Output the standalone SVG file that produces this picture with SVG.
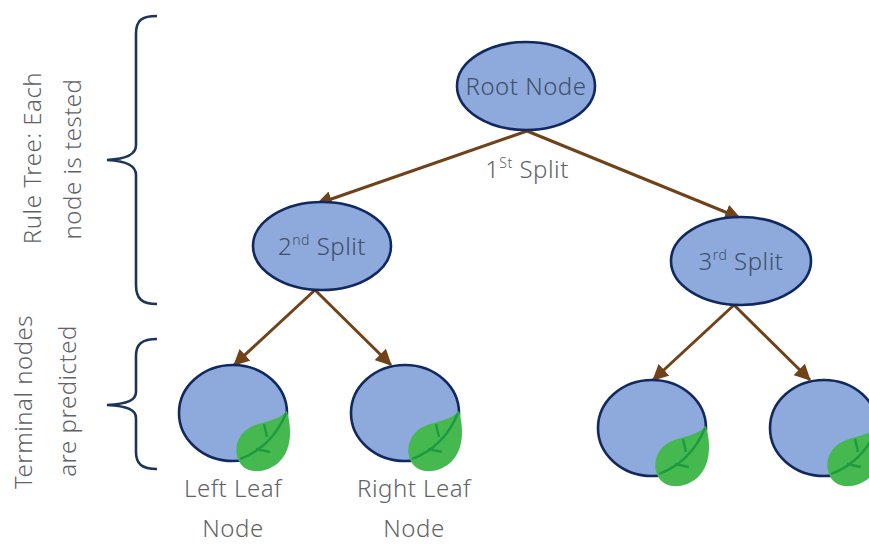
<svg xmlns="http://www.w3.org/2000/svg" width="869" height="544" viewBox="0 0 869 544">
<defs>
<style>
.n{fill:#8ea9db;stroke:#12295f;stroke-width:2.6}
.c{stroke:#70421a;stroke-width:3;fill:none}
.b{stroke:#1b3457;stroke-width:2.6;fill:none}
.lf{fill:#45b84f}
.v{stroke:#1f9a40;stroke-width:2.4;fill:none}
text{font-family:"Noto Sans","Open Sans",sans-serif;font-size:24px;letter-spacing:.5px;fill:#5f6368;font-weight:300}
.t{fill:#3f4f68;text-anchor:middle}
.m{text-anchor:middle}
.s{font-size:14px}
</style>
<marker id="a" markerUnits="userSpaceOnUse" markerWidth="17" markerHeight="16" refX="15" refY="8" orient="auto"><path d="M0 0L16 8L0 16Z" fill="#70421a"/></marker>
<g id="leaf"><path d="M50 0C55 18 55 40 41 52C28 63 10 63 3 52C-4 41 -1 25 12 17C24 10 40 11 50 0Z" class="lf"/><path d="M49 2C40 24 24 40 3 48M30 26L27 13M19 38L33 41" class="v"/></g>
</defs>
<g id="connectors">
<path class="c" marker-end="url(#a)" d="M527 131L317 204"/>
<path class="c" marker-end="url(#a)" d="M527 131L740 218"/>
<path class="c" marker-end="url(#a)" d="M315 290L234 365"/>
<path class="c" marker-end="url(#a)" d="M315 290L391 365"/>
<path class="c" marker-end="url(#a)" d="M734 305L653 380"/>
<path class="c" marker-end="url(#a)" d="M734 305L810 380"/>
</g>
<g id="root"><ellipse class="n" cx="526" cy="86" rx="69" ry="44"/><text class="t" x="526" y="95">Root Node</text></g>
<text class="m" x="527" y="178">1<tspan class="s" dy="-10">St</tspan><tspan dy="10"> Split</tspan></text>
<g id="split2"><ellipse class="n" cx="322" cy="246" rx="69" ry="44"/><text class="t" x="322" y="255">2<tspan class="s" dy="-10">nd</tspan><tspan dy="10"> Split</tspan></text></g>
<g id="split3"><ellipse class="n" cx="741" cy="261" rx="70" ry="44"/><text class="t" x="741" y="270">3<tspan class="s" dy="-10">rd</tspan><tspan dy="10"> Split</tspan></text></g>
<g id="leaf1"><ellipse class="n" cx="233" cy="413" rx="54" ry="48"/><use href="#leaf" x="237" y="411"/></g>
<g id="leaf2"><ellipse class="n" cx="405" cy="413" rx="54" ry="48"/><use href="#leaf" x="409" y="411"/></g>
<g id="leaf3"><ellipse class="n" cx="652" cy="428" rx="54" ry="48"/><use href="#leaf" x="656" y="426"/></g>
<g id="leaf4"><ellipse class="n" cx="824" cy="428" rx="54" ry="48"/><use href="#leaf" x="828" y="426"/></g>
<text class="m" x="233" y="497">Left Leaf</text>
<text class="m" x="233" y="537">Node</text>
<text class="m" x="414" y="497">Right Leaf</text>
<text class="m" x="414" y="537">Node</text>
<g id="brace1"><path class="b" d="M157 16C142 16 136 20 136 34V145C136 154 128 159 107 160C128 161 136 166 136 175V285C136 299 142 304 157 304"/></g>
<g id="brace2"><path class="b" d="M157 339C142 339 136 344 136 356V392C136 400 128 404 107 405C128 406 136 410 136 418V452C136 464 142 469 157 469"/></g>
<text class="m" transform="translate(41 158) rotate(-90)">Rule Tree: Each</text>
<text class="m" transform="translate(81 159) rotate(-90)">node is tested</text>
<text class="m" transform="translate(32 402) rotate(-90)">Terminal nodes</text>
<text class="m" transform="translate(76 401) rotate(-90)">are predicted</text>
</svg>
